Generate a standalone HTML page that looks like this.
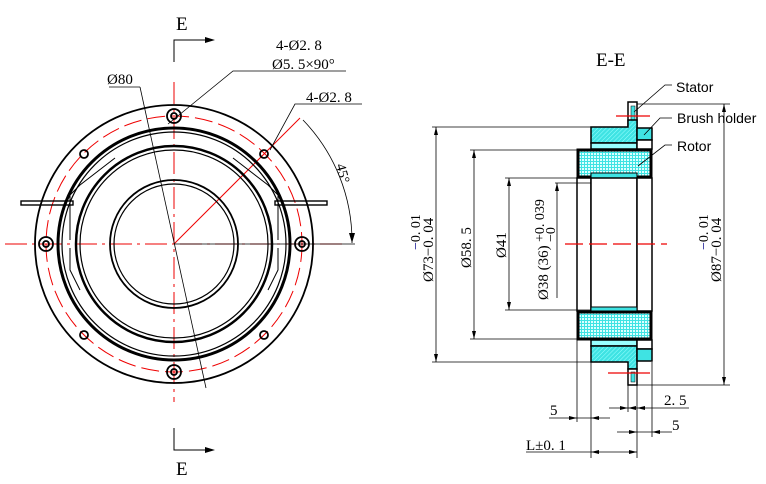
<!DOCTYPE html>
<html><head><meta charset="utf-8"><style>
html,body{margin:0;padding:0;background:#fff;}
svg{display:block;}
text{font-family:"Liberation Serif","Noto Serif CJK SC",serif;fill:#000;}
.s{font-family:"Liberation Sans","DejaVu Sans",sans-serif;}
</style></head><body>
<svg width="766" height="484" viewBox="0 0 766 484" xmlns="http://www.w3.org/2000/svg">
<defs>
<pattern id="grid" width="3" height="3" patternUnits="userSpaceOnUse"><rect width="3" height="3" fill="#3fe3e3"/><rect x="0" y="0" width="2" height="2" fill="#dff"/></pattern>
<pattern id="hat" width="3" height="3" patternUnits="userSpaceOnUse" patternTransform="rotate(45)"><rect width="3" height="3" fill="#3fe3e3"/><line x1="0" y1="0" x2="0" y2="3" stroke="#9ff" stroke-width="1"/></pattern>
</defs>
<!-- LEFT VIEW -->
<g fill="none" stroke="#e00" stroke-width="1">
<line x1="5" y1="244" x2="345" y2="244" stroke-dasharray="22,5,3,5"/>
<line x1="174" y1="82" x2="174" y2="402" stroke-dasharray="22,5,3,5"/>
<circle cx="174" cy="244" r="128" stroke-dasharray="18,6"/>
<line x1="174" y1="244" x2="300" y2="118"/>
</g>
<g fill="none" stroke="#000">
<circle cx="174" cy="244" r="139" stroke-width="1.8"/>
<circle cx="174" cy="244" r="116" stroke-width="3"/>
<circle cx="174" cy="244" r="112" stroke-width="1.2"/>
<circle cx="174" cy="244" r="98" stroke-width="2.5"/>
<circle cx="174" cy="244" r="94" stroke-width="1.2"/>
<circle cx="174" cy="244" r="64" stroke-width="1.8"/>
<circle cx="174" cy="244" r="60" stroke-width="1.2"/>
<path d="M70 240 L70 195 L80 185 L115 158" stroke-width="1"/>
<path d="M278 240 L278 195 L268 185 L233 158" stroke-width="1"/>
<path d="M70 248 L70 270 L80 290" stroke-width="1"/>
<path d="M278 248 L278 270 L268 290" stroke-width="1"/>
<g stroke-width="1.8">
<circle cx="174" cy="116" r="7"/><circle cx="174" cy="116" r="3"/>
<circle cx="174" cy="372" r="7"/><circle cx="174" cy="372" r="3"/>
<circle cx="46" cy="244" r="7"/><circle cx="46" cy="244" r="3"/>
<circle cx="302" cy="244" r="7"/><circle cx="302" cy="244" r="3"/>
<circle cx="84" cy="154" r="4"/><circle cx="264" cy="154" r="4"/>
<circle cx="84" cy="335" r="4"/><circle cx="264" cy="335" r="4"/>
</g>
<rect x="21" y="201" width="52" height="4" stroke-width="1.4"/>
<rect x="275" y="201" width="52" height="4" stroke-width="1.4"/>
<line x1="109" y1="87" x2="140" y2="87" stroke-width="0.8"/>
<line x1="140" y1="87" x2="206" y2="388" stroke-width="0.8"/>
<path d="M168 124 L233 71 L346 71" stroke-width="0.8"/>
<path d="M270 150 L295 104 L362 104" stroke-width="0.8"/>
<line x1="174" y1="244" x2="355" y2="244" stroke-width="0.8"/>
<path d="M303 120 A175 175 0 0 1 352 243" stroke-width="0.8"/>
<path d="M174 62 L174 40 L210 40" stroke-width="1"/>
<path d="M174 428 L174 450 L210 450" stroke-width="1"/>
</g>
<path d="M215 40 L205 37 L205 43Z M215 450 L205 447 L205 453Z M352 243 L349 233 L355 233Z" fill="#000"/>
<text x="176" y="30" font-size="19">E</text>
<text x="176" y="475" font-size="19">E</text>
<text x="107" y="84" font-size="15">Ø80</text>
<text x="276" y="50" font-size="15">4-Ø2. 8</text>
<text x="272" y="69" font-size="15">Ø5. 5×90°</text>
<text x="306" y="102" font-size="15">4-Ø2. 8</text>
<text x="0" y="0" font-size="14" transform="translate(336,165) rotate(75)">45°</text>
<!-- RIGHT VIEW -->
<text x="596" y="66" font-size="19">E-E</text>
<g stroke="#000" stroke-width="1.5">
<rect x="628" y="102" width="9" height="25" fill="#fff"/>
<rect x="631" y="106" width="4" height="14" fill="#3fe3e3" stroke-width="0.5"/>
<path d="M591 127 L628 127 L628 120 L637 120 L637 143 L591 143Z" fill="url(#hat)"/>
<rect x="591" y="143" width="46" height="6" fill="#9ff"/>
<rect x="637" y="128" width="15" height="12" fill="#3fe3e3"/>
<rect x="637" y="140" width="15" height="9" fill="#fff"/>
<rect x="578" y="150" width="73" height="27" fill="url(#grid)" stroke-width="3"/>
<rect x="591" y="173" width="46" height="6" fill="#3fe3e3" stroke-width="1"/>
<rect x="577" y="178" width="14" height="133" fill="#fff"/>
<rect x="591" y="178" width="46" height="133" fill="#fff"/>
<rect x="637" y="178" width="15" height="133" fill="#fff"/>
<rect x="591" y="307" width="46" height="6" fill="#3fe3e3" stroke-width="1"/>
<rect x="578" y="312" width="73" height="27" fill="url(#grid)" stroke-width="3"/>
<rect x="591" y="340" width="46" height="6" fill="#9ff"/>
<path d="M591 346 L637 346 L637 369 L628 369 L628 362 L591 362Z" fill="url(#hat)"/>
<rect x="637" y="340" width="15" height="9" fill="#fff"/>
<rect x="637" y="349" width="15" height="12" fill="#3fe3e3"/>
<rect x="628" y="369" width="9" height="16" fill="#fff"/>
<rect x="631" y="372" width="4" height="10" fill="#3fe3e3" stroke-width="0.5"/>
</g>
<g stroke="#e00" stroke-width="1.2">
<line x1="616" y1="116" x2="650" y2="116"/>
<line x1="608" y1="373" x2="650" y2="373"/>
<line x1="565" y1="244" x2="667" y2="244" stroke-dasharray="18,6"/>
</g>
<g stroke="#000" stroke-width="0.8" fill="none">
<line x1="432" y1="127" x2="591" y2="127"/><line x1="432" y1="362" x2="591" y2="362"/>
<line x1="436" y1="127" x2="436" y2="362"/>
<line x1="470" y1="150" x2="577" y2="150"/><line x1="470" y1="339" x2="577" y2="339"/>
<line x1="474" y1="150" x2="474" y2="339"/>
<line x1="505" y1="178" x2="591" y2="178"/><line x1="505" y1="310" x2="591" y2="310"/>
<line x1="509" y1="178" x2="509" y2="310"/>
<line x1="555" y1="183" x2="591" y2="183"/>
<line x1="557" y1="183" x2="557" y2="298"/>
<line x1="637" y1="104" x2="730" y2="104"/><line x1="637" y1="385" x2="730" y2="385"/>
<line x1="724" y1="104" x2="724" y2="385"/>
<path d="M634 112 L665 85 L672 85"/>
<path d="M644 135 L660 118 L672 118"/>
<path d="M638 166 L665 145 L672 145"/>
<line x1="577" y1="340" x2="577" y2="422"/>
<line x1="591" y1="362" x2="591" y2="458"/>
<line x1="628" y1="385" x2="628" y2="412"/>
<line x1="637" y1="385" x2="637" y2="458"/>
<line x1="652" y1="362" x2="652" y2="437"/>
<line x1="549" y1="418" x2="610" y2="418"/>
<line x1="609" y1="408" x2="689" y2="408"/>
<line x1="617" y1="432" x2="672" y2="432"/>
<line x1="526" y1="452" x2="637" y2="452"/>
</g>
<g fill="#000">
<path d="M436 127 l-2 8 h4Z M436 362 l-2 -8 h4Z M474 150 l-2 8 h4Z M474 339 l-2 -8 h4Z M509 178 l-2 8 h4Z M509 310 l-2 -8 h4Z M557 183 l-2 8 h4Z M724 104 l-2 8 h4Z M724 385 l-2 -8 h4Z"/>
<path d="M577 418 l-8 -2 v4Z M591 418 l8 -2 v4Z M628 408 l-8 -2 v4Z M628 408 l8 -2 v4Z M637 408 l8 -2 v4Z M637 432 l-8 -2 v4Z M652 432 l8 -2 v4Z M591 452 l8 -2 v4Z M637 452 l-8 -2 v4Z"/>
</g>
<text class="s" x="676" y="92" font-size="14">Stator</text>
<text class="s" x="677" y="123" font-size="14">Brush holder</text>
<text class="s" x="677" y="151" font-size="14">Rotor</text>
<text x="550" y="415" font-size="15">5</text>
<text x="664" y="405" font-size="15">2. 5</text>
<text x="672" y="430" font-size="15">5</text>
<text x="526" y="450" font-size="15">L±0. 1</text>
<g font-size="15">
<text transform="translate(433,282) rotate(-90)">Ø73−0. 04</text>
<text transform="translate(420,250) rotate(-90)" font-size="14"><tspan fill="#008">−</tspan>0. 01</text>
<text transform="translate(471,268) rotate(-90)">Ø58. 5</text>
<text transform="translate(506,258) rotate(-90)">Ø41</text>
<text transform="translate(548,300) rotate(-90)">Ø38 (36)</text>
<text transform="translate(544,242) rotate(-90)" font-size="14">+0. 039</text>
<text transform="translate(555,242) rotate(-90)" font-size="14">−0</text>
<text transform="translate(721,282) rotate(-90)">Ø87−0. 04</text>
<text transform="translate(708,250) rotate(-90)" font-size="14"><tspan fill="#008">−</tspan>0. 01</text>
</g>
</svg>
</body></html>
